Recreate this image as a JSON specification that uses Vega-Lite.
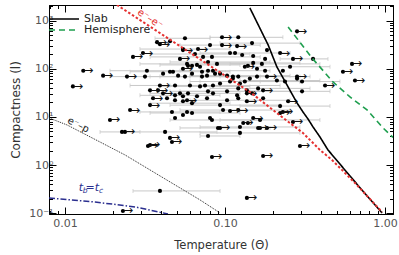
{
  "$schema": "https://vega.github.io/schema/vega-lite/v6.json",
  "width": 344,
  "height": 209,
  "autosize": {"type": "none"},
  "padding": {"left": 49, "top": 5, "right": 6, "bottom": 41},
  "config": {
    "view": {"stroke": "black", "strokeWidth": 1},
    "font": "DejaVu Sans",
    "axis": {"labelFont": "DejaVu Sans", "titleFont": "DejaVu Sans", "titleFontWeight": "normal", "grid": false}
  },
  "datasets": {
    "obs": [
      {"T":0.282,"l":596,"lim":1},
      {"T":0.0562,"l":429,"lo":0.0365,"hi":0.0806},
      {"T":0.0958,"l":449,"lim":1},
      {"T":0.121,"l":449,"lo":0.0806,"hi":0.230},
      {"T":0.0392,"l":324,"lim":1},
      {"T":0.0453,"l":372},
      {"T":0.0806,"l":309,"lo":0.0523,"hi":0.166},
      {"T":0.0958,"l":309,"lim":1},
      {"T":0.119,"l":295,"lim":1},
      {"T":0.183,"l":244},
      {"T":0.0546,"l":244,"lim":1},
      {"T":0.0678,"l":256,"lim":1},
      {"T":0.1155,"l":212,"lo":0.0698,"hi":0.255},
      {"T":0.0266,"l":176,"lim":1},
      {"T":0.0307,"l":212,"lim":1},
      {"T":0.0523,"l":160,"lim":1},
      {"T":0.0729,"l":176,"lo":0.034,"hi":0.166},
      {"T":0.178,"l":160},
      {"T":0.266,"l":160,"lim":1},
      {"T":0.355,"l":160,"lo":0.221,"hi":0.44},
      {"T":0.0579,"l":126,"lo":0.0294,"hi":0.143},
      {"T":0.0622,"l":115},
      {"T":0.0668,"l":120,"lo":0.0392,"hi":0.124},
      {"T":0.0698,"l":110},
      {"T":0.0546,"l":100,"lim":1},
      {"T":0.0783,"l":138,"lo":0.0453,"hi":0.191},
      {"T":0.0891,"l":126},
      {"T":0.133,"l":110,"lim":1},
      {"T":0.150,"l":132,"lo":0.0866,"hi":0.294},
      {"T":0.1585,"l":100},
      {"T":0.255,"l":110,"lo":0.143,"hi":0.453},
      {"T":0.230,"l":91},
      {"T":0.0244,"l":68.7,"lim":1},
      {"T":0.0316,"l":68.7,"lo":0.0191,"hi":0.0604},
      {"T":0.041,"l":79},
      {"T":0.0473,"l":86.8,"lo":0.0255,"hi":0.1075},
      {"T":0.0509,"l":71.9},
      {"T":0.0562,"l":68.7,"lo":0.034,"hi":0.124},
      {"T":0.0622,"l":79},
      {"T":0.0718,"l":68.7,"lo":0.0392,"hi":0.166},
      {"T":0.0772,"l":71.9},
      {"T":0.0841,"l":91,"lo":0.0523,"hi":0.191},
      {"T":0.0931,"l":79},
      {"T":0.103,"l":71.9,"lo":0.0604,"hi":0.255},
      {"T":0.112,"l":68.7},
      {"T":0.121,"l":68.7,"lo":0.0698,"hi":0.294},
      {"T":0.143,"l":62.5},
      {"T":0.1585,"l":68.7,"lo":0.0931,"hi":0.34},
      {"T":0.183,"l":68.7,"lim":1},
      {"T":0.211,"l":56.9,"lo":0.124,"hi":0.392},
      {"T":0.237,"l":54.3},
      {"T":0.282,"l":68.7,"lim":1},
      {"T":0.303,"l":54.3,"lo":0.166,"hi":0.523},
      {"T":0.422,"l":45,"lim":1},
      {"T":0.0392,"l":45,"lim":1},
      {"T":0.0487,"l":45,"lo":0.0255,"hi":0.0931},
      {"T":0.0604,"l":45},
      {"T":0.0698,"l":43,"lo":0.0392,"hi":0.143},
      {"T":0.075,"l":45},
      {"T":0.0841,"l":45,"lo":0.0453,"hi":0.221},
      {"T":0.0931,"l":49.4},
      {"T":0.1075,"l":54.3,"lo":0.0604,"hi":0.294},
      {"T":0.121,"l":39.1},
      {"T":0.137,"l":30.9,"lim":1},
      {"T":0.173,"l":35.6,"lim":1},
      {"T":0.303,"l":34,"lo":0.143,"hi":0.453},
      {"T":0.041,"l":30.9,"lim":1},
      {"T":0.0487,"l":28.1,"lo":0.0294,"hi":0.0931},
      {"T":0.0546,"l":26.8},
      {"T":0.0587,"l":30.9,"lo":0.034,"hi":0.124},
      {"T":0.0434,"l":24.4},
      {"T":0.0579,"l":22.2,"lim":1},
      {"T":0.0622,"l":19.3,"lo":0.034,"hi":0.1075},
      {"T":0.0772,"l":24.4},
      {"T":0.103,"l":22.2,"lo":0.0604,"hi":0.255},
      {"T":0.121,"l":24.4},
      {"T":0.137,"l":21.2,"lim":1},
      {"T":0.034,"l":17.6,"lim":1},
      {"T":0.0931,"l":17.6,"lo":0.0453,"hi":0.221},
      {"T":0.221,"l":16.8,"lo":0.124,"hi":0.453},
      {"T":0.0255,"l":13.9,"lim":1},
      {"T":0.0466,"l":12.7,"lo":0.0294,"hi":0.0931},
      {"T":0.0579,"l":12.7},
      {"T":0.0622,"l":12.1,"lo":0.034,"hi":0.124},
      {"T":0.0972,"l":13.9,"lo":0.0523,"hi":0.255},
      {"T":0.1075,"l":13.3,"lim":1},
      {"T":0.121,"l":13.9,"lim":1},
      {"T":0.230,"l":12.7,"lim":1},
      {"T":0.0829,"l":8.65,"lo":0.0453,"hi":0.166},
      {"T":0.130,"l":7.5,"lim":1},
      {"T":0.1655,"l":8.65,"lo":0.0931,"hi":0.392},
      {"T":0.161,"l":5.91,"lim":1},
      {"T":0.266,"l":7.86,"lim":1},
      {"T":0.0237,"l":4.89,"lim":1},
      {"T":0.0422,"l":4.89,"lo":0.023,"hi":0.0891},
      {"T":0.0783,"l":4.03,"lo":0.0698,"hi":0.124},
      {"T":0.0453,"l":3.67,"lim":1},
      {"T":0.0466,"l":3.03,"lim":1},
      {"T":0.0649,"l":202,"lo":0.034,"hi":0.143},
      {"T":0.0829,"l":176},
      {"T":0.0587,"l":115},
      {"T":0.0718,"l":86.8},
      {"T":0.0783,"l":91},
      {"T":0.0866,"l":79},
      {"T":0.112,"l":62.5},
      {"T":0.124,"l":49.4},
      {"T":0.133,"l":54.3,"lo":0.0698,"hi":0.294},
      {"T":0.139,"l":115},
      {"T":0.170,"l":126,"lo":0.1075,"hi":0.392},
      {"T":0.178,"l":91},
      {"T":0.0453,"l":86.8},
      {"T":0.034,"l":35.6,"lim":1},
      {"T":0.0523,"l":30.9},
      {"T":0.0546,"l":21.2},
      {"T":0.0487,"l":22.2},
      {"T":0.0668,"l":26.8},
      {"T":0.0783,"l":34,"lo":0.0453,"hi":0.191},
      {"T":0.0841,"l":30.9},
      {"T":0.103,"l":34,"lo":0.0523,"hi":0.255},
      {"T":0.119,"l":28.1},
      {"T":0.137,"l":35.6},
      {"T":0.1475,"l":30.9},
      {"T":0.161,"l":39.1,"lo":0.0806,"hi":0.34},
      {"T":0.173,"l":24.4},
      {"T":0.0806,"l":9.5},
      {"T":0.0904,"l":5.91,"lo":0.0523,"hi":0.191},
      {"T":0.124,"l":6.2,"lo":0.0698,"hi":0.294},
      {"T":0.139,"l":7.5},
      {"T":0.0487,"l":9.5},
      {"T":0.034,"l":2.62,"lim":1},
      {"T":0.013,"l":91,"lim":1},
      {"T":0.0173,"l":71.9,"lim":1},
      {"T":0.0112,"l":43,"lim":1},
      {"T":0.0376,"l":356,"lim":1},
      {"T":0.0325,"l":91,"lo":0.0191,"hi":0.0604},
      {"T":0.0191,"l":8.65,"lim":1},
      {"T":0.0546,"l":11.0},
      {"T":0.0381,"l":35.6,"lim":1},
      {"T":0.0355,"l":24.4,"lim":1},
      {"T":0.0546,"l":256,"lo":0.0294,"hi":0.1075},
      {"T":0.0227,"l":4.89,"lo":0.01655,"hi":0.0294},
      {"T":0.033,"l":2.5,"lim":1},
      {"T":0.0392,"l":0.292,"lo":0.0266,"hi":0.0931},
      {"T":0.023,"l":0.112,"lim":1},
      {"T":0.0931,"l":5.91,"lim":1},
      {"T":0.1655,"l":5.91},
      {"T":0.183,"l":5.91,"lim":1},
      {"T":0.124,"l":4.66,"lo":0.0698,"hi":0.294},
      {"T":0.294,"l":2.5,"lim":1},
      {"T":0.0829,"l":1.48,"lim":1},
      {"T":0.173,"l":1.55,"lim":1},
      {"T":0.137,"l":0.209,"lim":1},
      {"T":0.1475,"l":340,"lo":0.0931,"hi":0.294},
      {"T":0.1075,"l":212},
      {"T":0.128,"l":193},
      {"T":0.150,"l":184},
      {"T":0.221,"l":212,"lim":1},
      {"T":0.282,"l":62.5},
      {"T":0.248,"l":21.2,"lim":1},
      {"T":0.221,"l":12.1,"lim":1},
      {"T":0.150,"l":9.5,"lim":1},
      {"T":0.622,"l":126,"lim":1},
      {"T":0.546,"l":86.8,"lim":1},
      {"T":0.649,"l":56.9,"lim":1}
    ],
    "curves": [
      {"curve":"Slab","T":0.143,"l":1825},
      {"curve":"Slab","T":0.186,"l":312},
      {"curve":"Slab","T":0.211,"l":109},
      {"curve":"Slab","T":0.244,"l":46.1},
      {"curve":"Slab","T":0.282,"l":19.5},
      {"curve":"Slab","T":0.307,"l":12.7},
      {"curve":"Slab","T":0.330,"l":9.09},
      {"curve":"Slab","T":0.355,"l":6.2},
      {"curve":"Slab","T":0.392,"l":3.85},
      {"curve":"Slab","T":0.440,"l":2.07},
      {"curve":"Slab","T":0.604,"l":0.597},
      {"curve":"Slab","T":0.772,"l":0.230},
      {"curve":"Slab","T":0.958,"l":0.102},
      {"curve":"Hemisphere","T":0.248,"l":736},
      {"curve":"Hemisphere","T":0.350,"l":167},
      {"curve":"Hemisphere","T":0.473,"l":53.2},
      {"curve":"Hemisphere","T":0.604,"l":26.0},
      {"curve":"Hemisphere","T":0.772,"l":14.0},
      {"curve":"Hemisphere","T":0.972,"l":5.91},
      {"curve":"Hemisphere","T":1.122,"l":3.76},
      {"curve":"ee","T":0.0211,"l":2108},
      {"curve":"ee","T":0.0509,"l":312},
      {"curve":"ee","T":0.143,"l":33.0},
      {"curve":"ee","T":0.227,"l":10.0},
      {"curve":"ee","T":0.307,"l":4.66},
      {"curve":"ee","T":0.392,"l":2.07},
      {"curve":"ee","T":0.4665,"l":1.28},
      {"curve":"ee","T":0.649,"l":0.427},
      {"curve":"ee","T":0.958,"l":0.107},
      {"curve":"ep","T":0.00794,"l":9.54},
      {"curve":"ep","T":0.0103,"l":6.82},
      {"curve":"ep","T":0.0237,"l":1.63},
      {"curve":"ep","T":0.0698,"l":0.190},
      {"curve":"ep","T":0.0931,"l":0.102},
      {"curve":"tt","T":0.00794,"l":0.209},
      {"curve":"tt","T":0.0154,"l":0.172},
      {"curve":"tt","T":0.0274,"l":0.136},
      {"curve":"tt","T":0.0440,"l":0.0972}
    ]
  },
  "layer": [
    {
      "layer": [
        {
          "data": {"name": "obs"},
          "transform": [{"filter": "isValid(datum.lo)"}],
          "mark": {"type": "rule", "color": "#c8c8c8", "strokeWidth": 1},
          "encoding": {
            "x": {"field": "lo", "type": "quantitative", "scale": {"type": "log", "domain": [0.00794, 1.122], "nice": false},
              "title": "Temperature (Θ)",
              "axis": {
                "values": [0.008,0.009,0.01,0.02,0.03,0.04,0.05,0.06,0.07,0.08,0.09,0.1,0.2,0.3,0.4,0.5,0.6,0.7,0.8,0.9,1],
                "labelExpr": "datum.value == 0.01 ? '0.01' : datum.value == 0.1 ? '0.10' : datum.value == 1 ? '1.00' : ''",
                "tickSize": {"condition": {"test": "indexof([0.01,0.1,1], datum.value) >= 0", "value": -7}, "value": -3.5},
                "tickColor": "black", "domainColor": "black",
                "labelColor": "#555", "labelFontSize": 11, "labelPadding": 10,
                "labelOverlap": false, "labelFlush": false,
                "titleColor": "#333", "titleFontSize": 11.5, "titlePadding": 8
              }},
            "x2": {"field": "hi"},
            "y": {"field": "l", "type": "quantitative", "scale": {"type": "log", "domain": [0.097, 2100], "nice": false},
              "title": "Compactness (l)",
              "axis": {
                "values": [0.1,0.2,0.3,0.4,0.5,0.6,0.7,0.8,0.9,1,2,3,4,5,6,7,8,9,10,20,30,40,50,60,70,80,90,100,200,300,400,500,600,700,800,900,1000,2000],
                "labelExpr": "datum.value == 1000 ? '10³' : datum.value == 100 ? '10²' : datum.value == 10 ? '10¹' : datum.value == 1 ? '10⁰' : datum.value == 0.1 ? '10⁻¹' : ''",
                "tickSize": {"condition": {"test": "indexof([0.1,1,10,100,1000], datum.value) >= 0", "value": -7}, "value": -3.5},
                "tickColor": "black", "domainColor": "black",
                "labelColor": "#555", "labelFontSize": 11, "labelPadding": 3,
                "labelOverlap": false, "labelFlush": false,
                "titleColor": "#333", "titleFontSize": 12, "titlePadding": 6
              }}
          }
        },
        {
          "data": {"name": "obs"},
          "transform": [{"filter": "isValid(datum.lo)"}],
          "mark": {"type": "tick", "orient": "vertical", "color": "#c8c8c8", "size": 4, "thickness": 1},
          "encoding": {
            "x": {"field": "lo", "type": "quantitative", "scale": {"type": "log", "domain": [0.00794, 1.122], "nice": false}},
            "y": {"field": "l", "type": "quantitative", "scale": {"type": "log", "domain": [0.097, 2100], "nice": false}}
          }
        },
        {
          "data": {"name": "obs"},
          "transform": [{"filter": "isValid(datum.hi)"}],
          "mark": {"type": "tick", "orient": "vertical", "color": "#c8c8c8", "size": 4, "thickness": 1},
          "encoding": {
            "x": {"field": "hi", "type": "quantitative", "scale": {"type": "log", "domain": [0.00794, 1.122], "nice": false}},
            "y": {"field": "l", "type": "quantitative", "scale": {"type": "log", "domain": [0.097, 2100], "nice": false}}
          }
        },
        {
          "data": {"name": "obs"},
          "mark": {"type": "circle", "size": 17, "color": "black", "opacity": 1},
          "encoding": {
            "x": {"field": "T", "type": "quantitative", "scale": {"type": "log", "domain": [0.00794, 1.122], "nice": false}},
            "y": {"field": "l", "type": "quantitative", "scale": {"type": "log", "domain": [0.097, 2100], "nice": false}}
          }
        },
        {
          "data": {"name": "obs"},
          "transform": [{"filter": "datum.lim == 1"}],
          "mark": {"type": "text", "text": "→", "align": "left", "baseline": "middle", "dx": 0, "dy": -0.5, "fontSize": 12, "color": "#111"},
          "encoding": {
            "x": {"field": "T", "type": "quantitative", "scale": {"type": "log", "domain": [0.00794, 1.122], "nice": false}},
            "y": {"field": "l", "type": "quantitative", "scale": {"type": "log", "domain": [0.097, 2100], "nice": false}}
          }
        },
        {
          "data": {"name": "curves"},
          "transform": [{"filter": "datum.curve == 'Slab' || datum.curve == 'Hemisphere'"}],
          "mark": {"type": "line", "strokeWidth": 1.6, "clip": true},
          "encoding": {
            "x": {"field": "T", "type": "quantitative", "scale": {"type": "log", "domain": [0.00794, 1.122], "nice": false}},
            "y": {"field": "l", "type": "quantitative", "scale": {"type": "log", "domain": [0.097, 2100], "nice": false}},
            "color": {"field": "curve", "type": "nominal",
              "scale": {"domain": ["Slab", "Hemisphere"], "range": ["black", "#1e9e4e"]},
              "legend": {"title": null, "orient": "none", "legendX": 9, "legendY": 8, "symbolType": "M-3,0H3",
                "symbolSize": 100, "symbolStrokeWidth": 1.6, "labelFontSize": 11, "labelColor": "#222",
                "labelFont": "DejaVu Sans", "rowPadding": 0, "padding": 0, "labelOffset": 14}},
            "strokeDash": {"field": "curve", "type": "nominal",
              "scale": {"domain": ["Slab", "Hemisphere"], "range": [[1, 0], [6, 4]]},
              "legend": {"title": null, "orient": "none", "legendX": 9, "legendY": 8, "symbolType": "M-3,0H3",
                "symbolSize": 100, "symbolStrokeWidth": 1.6, "labelFontSize": 11, "labelColor": "#222",
                "labelFont": "DejaVu Sans", "rowPadding": 0, "padding": 0, "labelOffset": 14}}
          }
        },
        {
          "data": {"name": "curves"},
          "transform": [{"filter": "datum.curve == 'ee'"}],
          "mark": {"type": "line", "strokeWidth": 2, "color": "#e53030", "strokeDash": [2.5, 2], "clip": true},
          "encoding": {
            "x": {"field": "T", "type": "quantitative", "scale": {"type": "log", "domain": [0.00794, 1.122], "nice": false}},
            "y": {"field": "l", "type": "quantitative", "scale": {"type": "log", "domain": [0.097, 2100], "nice": false}}
          }
        },
        {
          "data": {"name": "curves"},
          "transform": [{"filter": "datum.curve == 'ep'"}],
          "mark": {"type": "line", "strokeWidth": 1, "color": "#222", "strokeDash": [1, 1], "clip": true},
          "encoding": {
            "x": {"field": "T", "type": "quantitative", "scale": {"type": "log", "domain": [0.00794, 1.122], "nice": false}},
            "y": {"field": "l", "type": "quantitative", "scale": {"type": "log", "domain": [0.097, 2100], "nice": false}}
          }
        },
        {
          "data": {"name": "curves"},
          "transform": [{"filter": "datum.curve == 'tt'"}],
          "mark": {"type": "line", "strokeWidth": 1.5, "color": "#2b2f8f", "strokeDash": [6, 2, 1.5, 2], "clip": true},
          "encoding": {
            "x": {"field": "T", "type": "quantitative", "scale": {"type": "log", "domain": [0.00794, 1.122], "nice": false}},
            "y": {"field": "l", "type": "quantitative", "scale": {"type": "log", "domain": [0.097, 2100], "nice": false}}
          }
        },
        {
          "data": {"values": [{"T": 0.034, "l": 1080, "label": "e⁻–e⁻"}]},
          "mark": {"type": "text", "color": "#e53030", "fontSize": 10, "angle": 33, "align": "center", "baseline": "middle"},
          "encoding": {
            "x": {"field": "T", "type": "quantitative", "scale": {"type": "log", "domain": [0.00794, 1.122], "nice": false}},
            "y": {"field": "l", "type": "quantitative", "scale": {"type": "log", "domain": [0.097, 2100], "nice": false}},
            "text": {"field": "label"}
          }
        },
        {
          "data": {"values": [{"T": 0.0121, "l": 6.82, "label": "e⁻–p"}]},
          "mark": {"type": "text", "color": "#222", "fontSize": 10, "angle": 27, "align": "center", "baseline": "middle"},
          "encoding": {
            "x": {"field": "T", "type": "quantitative", "scale": {"type": "log", "domain": [0.00794, 1.122], "nice": false}},
            "y": {"field": "l", "type": "quantitative", "scale": {"type": "log", "domain": [0.097, 2100], "nice": false}},
            "text": {"field": "label"}
          }
        },
        {
          "data": {"values": [
            {"T": 0.01259, "l": 0.336, "label": "t"},
            {"T": 0.01433, "l": 0.336, "label": "="},
            {"T": 0.01585, "l": 0.336, "label": "t"}
          ]},
          "mark": {"type": "text", "color": "#2b2f8f", "fontSize": 11, "fontStyle": "italic", "align": "center", "baseline": "middle"},
          "encoding": {
            "x": {"field": "T", "type": "quantitative", "scale": {"type": "log", "domain": [0.00794, 1.122], "nice": false}},
            "y": {"field": "l", "type": "quantitative", "scale": {"type": "log", "domain": [0.097, 2100], "nice": false}},
            "text": {"field": "label"}
          }
        },
        {
          "data": {"values": [
            {"T": 0.01334, "l": 0.336, "label": "b"},
            {"T": 0.01679, "l": 0.336, "label": "c"}
          ]},
          "mark": {"type": "text", "color": "#2b2f8f", "fontSize": 7.5, "fontStyle": "italic", "align": "center", "baseline": "middle", "dy": 3},
          "encoding": {
            "x": {"field": "T", "type": "quantitative", "scale": {"type": "log", "domain": [0.00794, 1.122], "nice": false}},
            "y": {"field": "l", "type": "quantitative", "scale": {"type": "log", "domain": [0.097, 2100], "nice": false}},
            "text": {"field": "label"}
          }
        }
      ]
    },
    {
      "data": {"name": "obs"},
      "mark": {"type": "point", "opacity": 0},
      "encoding": {
        "x": {"field": "T", "type": "quantitative", "scale": {"type": "log", "domain": [0.00794, 1.122], "nice": false},
          "axis": {"orient": "top", "title": null, "labels": false,
            "values": [0.008,0.009,0.01,0.02,0.03,0.04,0.05,0.06,0.07,0.08,0.09,0.1,0.2,0.3,0.4,0.5,0.6,0.7,0.8,0.9,1],
            "tickSize": {"condition": {"test": "indexof([0.01,0.1,1], datum.value) >= 0", "value": -7}, "value": -3.5},
            "tickColor": "black", "domainColor": "black"}},
        "y": {"field": "l", "type": "quantitative", "scale": {"type": "log", "domain": [0.097, 2100], "nice": false},
          "axis": {"orient": "right", "title": null, "labels": false,
            "values": [0.1,0.2,0.3,0.4,0.5,0.6,0.7,0.8,0.9,1,2,3,4,5,6,7,8,9,10,20,30,40,50,60,70,80,90,100,200,300,400,500,600,700,800,900,1000,2000],
            "tickSize": {"condition": {"test": "indexof([0.1,1,10,100,1000], datum.value) >= 0", "value": -7}, "value": -3.5},
            "tickColor": "black", "domainColor": "black"}}
      }
    }
  ],
  "resolve": {"scale": {"x": "independent", "y": "independent"}}
}
